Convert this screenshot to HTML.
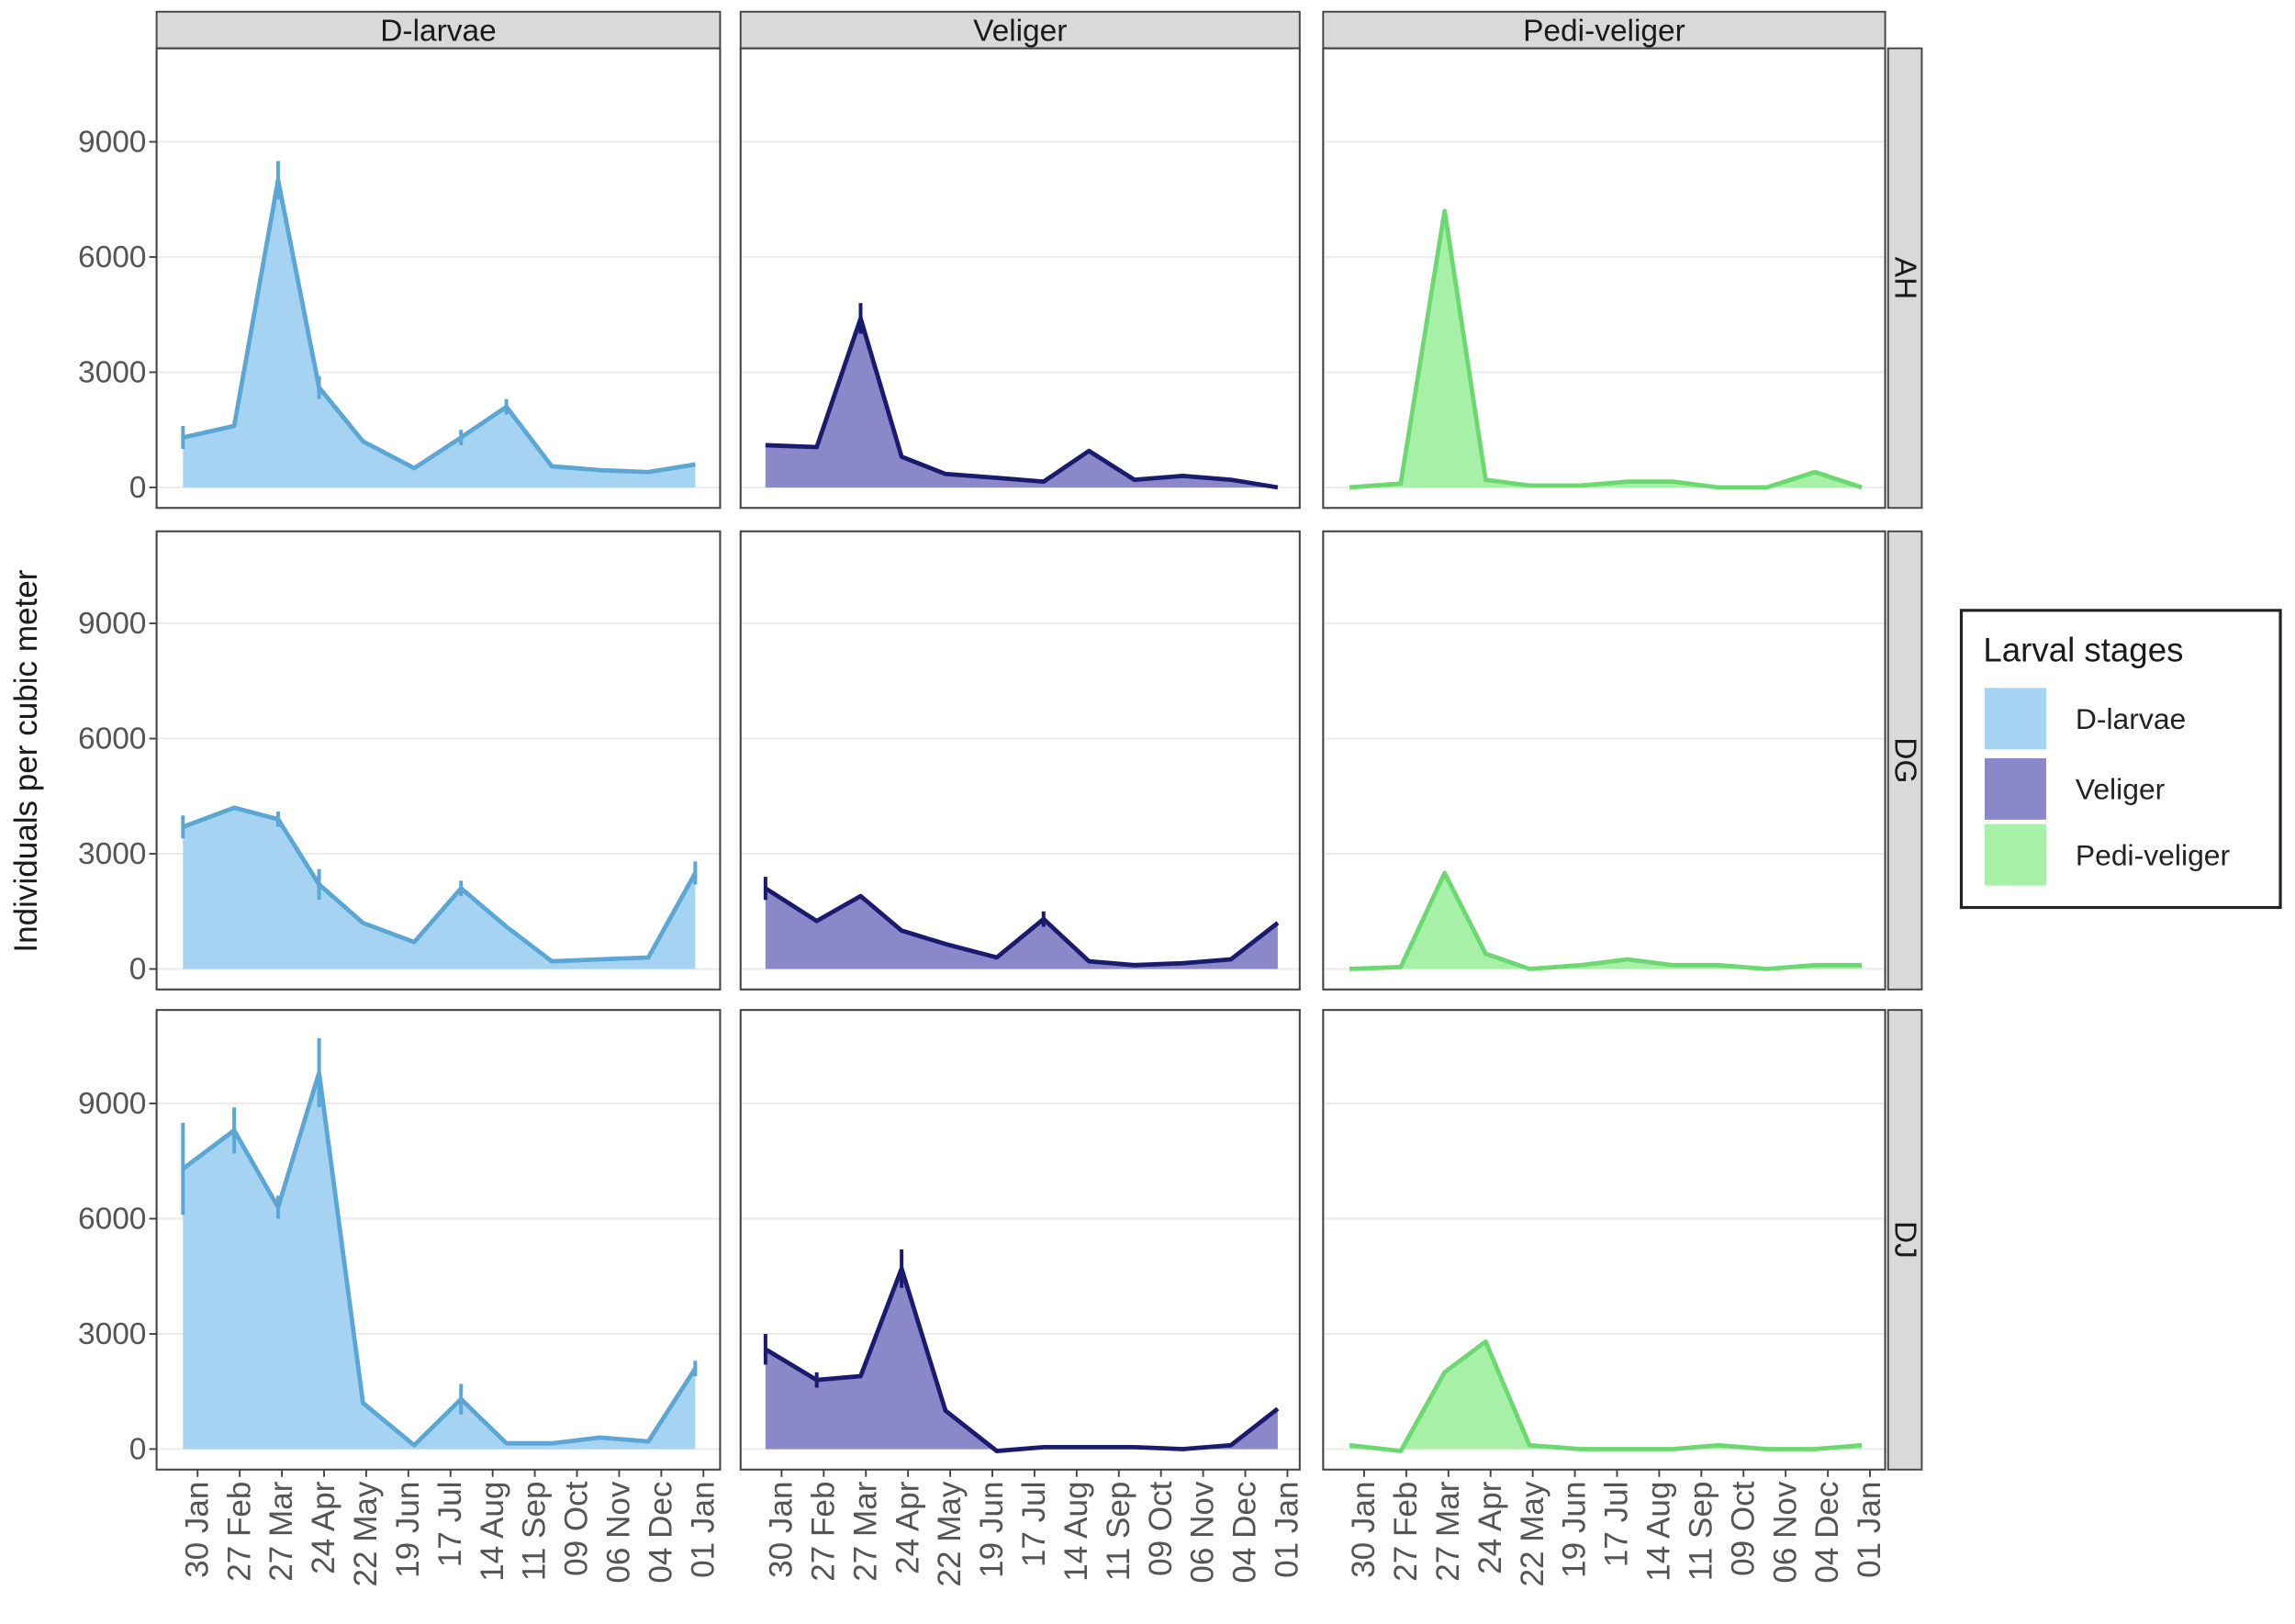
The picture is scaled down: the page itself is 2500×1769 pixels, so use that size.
<!DOCTYPE html>
<html><head><meta charset="utf-8"><style>html,body{margin:0;padding:0;background:#fff}svg{display:block}</style></head>
<body>
<svg width="2500" height="1769" viewBox="0 0 1568 1109.5" preserveAspectRatio="none" xmlns="http://www.w3.org/2000/svg" font-family="Liberation Sans, sans-serif">
<rect width="1568" height="1110" fill="#fff"/>
<g id="g"></g>
<script>
<![CDATA[
const NS="http://www.w3.org/2000/svg";const g=document.getElementById('g');
function el(t,a,txt){const e=document.createElementNS(NS,t);for(const k in a)e.setAttribute(k,a[k]);if(txt!==undefined)e.textContent=txt;g.appendChild(e);return e;}
const cols=[[107,492],[506,888],[904,1288]];
const rows=[[33,347,333],[363,676,662],[690,1004,990]];
const sc=78.7/3000;
const xs=[125,160,190,218,248,283,315,346,377,410,443,475];
const offs=[0,398,797];
const fills=['#a6d3f2','#8a88c8','#a6f0a8'];
const lines=['#5aa6d4','#1a1a6e','#6cd870'];
const data=[
[[1300,1600,8000,2600,1200,500,1300,2100,550,450,400,600],
 [3700,4200,3900,2200,1200,700,2100,1100,200,250,300,2500],
 [7300,8300,6300,9800,1200,100,1300,150,150,300,200,2100]],
[[1100,1050,4400,800,350,250,150,950,200,300,200,0],
 [2100,1250,1900,1000,650,300,1300,200,100,150,250,1200],
 [2600,1800,1900,4700,1000,-50,50,50,50,0,100,1050]],
[[0,100,7200,200,50,50,150,150,0,0,400,0],
 [0,50,2500,400,0,100,250,100,100,0,100,100],
 [100,-50,2000,2800,100,0,0,0,100,0,0,100]]];
const err=[[[0,300],[2,500],[3,300],[6,200],[7,200]],[[0,300],[2,200],[3,400],[6,200],[11,300]],[[0,1200],[1,600],[2,300],[3,900],[6,400],[11,200]]];
const errV=[[[2,400]],[[0,300],[6,200]],[[1,200],[3,500],[0,400]]];
const titles=['D-larvae','Veliger','Pedi-veliger'];
const rlab=['AH','DG','DJ'];
const dates=["30 Jan","27 Feb","27 Mar","24 Apr","22 May","19 Jun","17 Jul","14 Aug","11 Sep","09 Oct","06 Nov","04 Dec","01 Jan"];
for(let c=0;c<3;c++){
 const [x0,x1]=cols[c];
 el('rect',{x:x0,y:8,width:x1-x0,height:25,fill:'#d9d9d9',stroke:'#444','stroke-width':1.2});
 el('text',{x:(x0+x1)/2,y:28,'text-anchor':'middle','font-size':21,fill:'#1a1a1a'},titles[c]);
 for(let r=0;r<3;r++){
  const [y0,y1,yz]=rows[r];
  for(let v=3000;v<=9000;v+=3000){const y=yz-v*sc;el('line',{x1:x0,x2:x1,y1:y,y2:y,stroke:'#ebebeb','stroke-width':1.2});}
  el('line',{x1:x0,x2:x1,y1:yz,y2:yz,stroke:'#ebebeb','stroke-width':1.2});
  const d=data[c][r];const pts=d.map((v,i)=>[xs[i]+offs[c],yz-v*sc]);
  let p='M'+pts[0][0]+','+yz+' '+pts.map(q=>'L'+q[0]+','+q[1]).join(' ')+' L'+pts[pts.length-1][0]+','+yz+'Z';
  el('path',{d:p,fill:fills[c]});
  el('polyline',{points:pts.map(q=>q.join(',')).join(' '),fill:'none',stroke:lines[c],'stroke-width':3,'stroke-linejoin':'round'});
  const E=c==0?err[r]:errV[r];
  if(c<2)E.forEach(([i,e])=>{const q=pts[i];el('line',{x1:q[0],x2:q[0],y1:q[1]-e*sc,y2:q[1]+e*sc,stroke:lines[c],'stroke-width':2.5});});
  el('rect',{x:x0,y:y0,width:x1-x0,height:y1-y0,fill:'none',stroke:'#444','stroke-width':1.3});
  if(c==0){for(let v=0;v<=9000;v+=3000){const y=yz-v*sc;el('line',{x1:x0-5,x2:x0,y1:y,y2:y,stroke:'#444','stroke-width':1.2});el('text',{x:x0-7,y:y+7,'text-anchor':'end','font-size':21,fill:'#555'},v);}}
  if(c==2){el('rect',{x:1290,y:y0,width:23,height:y1-y0,fill:'#d9d9d9',stroke:'#444','stroke-width':1.2});
   el('text',{x:1295,y:(y0+y1)/2,'text-anchor':'middle','font-size':21,fill:'#1a1a1a',transform:`rotate(90 1295 ${(y0+y1)/2})`},rlab[r]);}
 }
 for(let i=0;i<13;i++){const x=x0+28+i*28.8;el('line',{x1:x,x2:x,y1:1004,y2:1009,stroke:'#444','stroke-width':1.2});
  el('text',{x:x+7,y:1012,'text-anchor':'end','font-size':22,fill:'#555',transform:`rotate(-90 ${x+7} 1012)`},dates[i]);}
}
el('text',{x:25,y:520,'text-anchor':'middle','font-size':22,fill:'#1a1a1a',transform:'rotate(-90 25 520)'},'Individuals per cubic meter');
el('rect',{x:1340,y:417,width:218,height:203,fill:'#fff',stroke:'#222','stroke-width':2});
el('text',{x:1355,y:452,'font-size':23,fill:'#1a1a1a'},'Larval stages');
const ln=['D-larvae','Veliger','Pedi-veliger'];
[470,518,563].forEach((y,i)=>{el('rect',{x:1356,y:y,width:42,height:42,fill:fills[i]});el('text',{x:1418,y:y+28,'font-size':20,fill:'#222'},ln[i]);});
]]>
</script>
</svg>
</body></html>
